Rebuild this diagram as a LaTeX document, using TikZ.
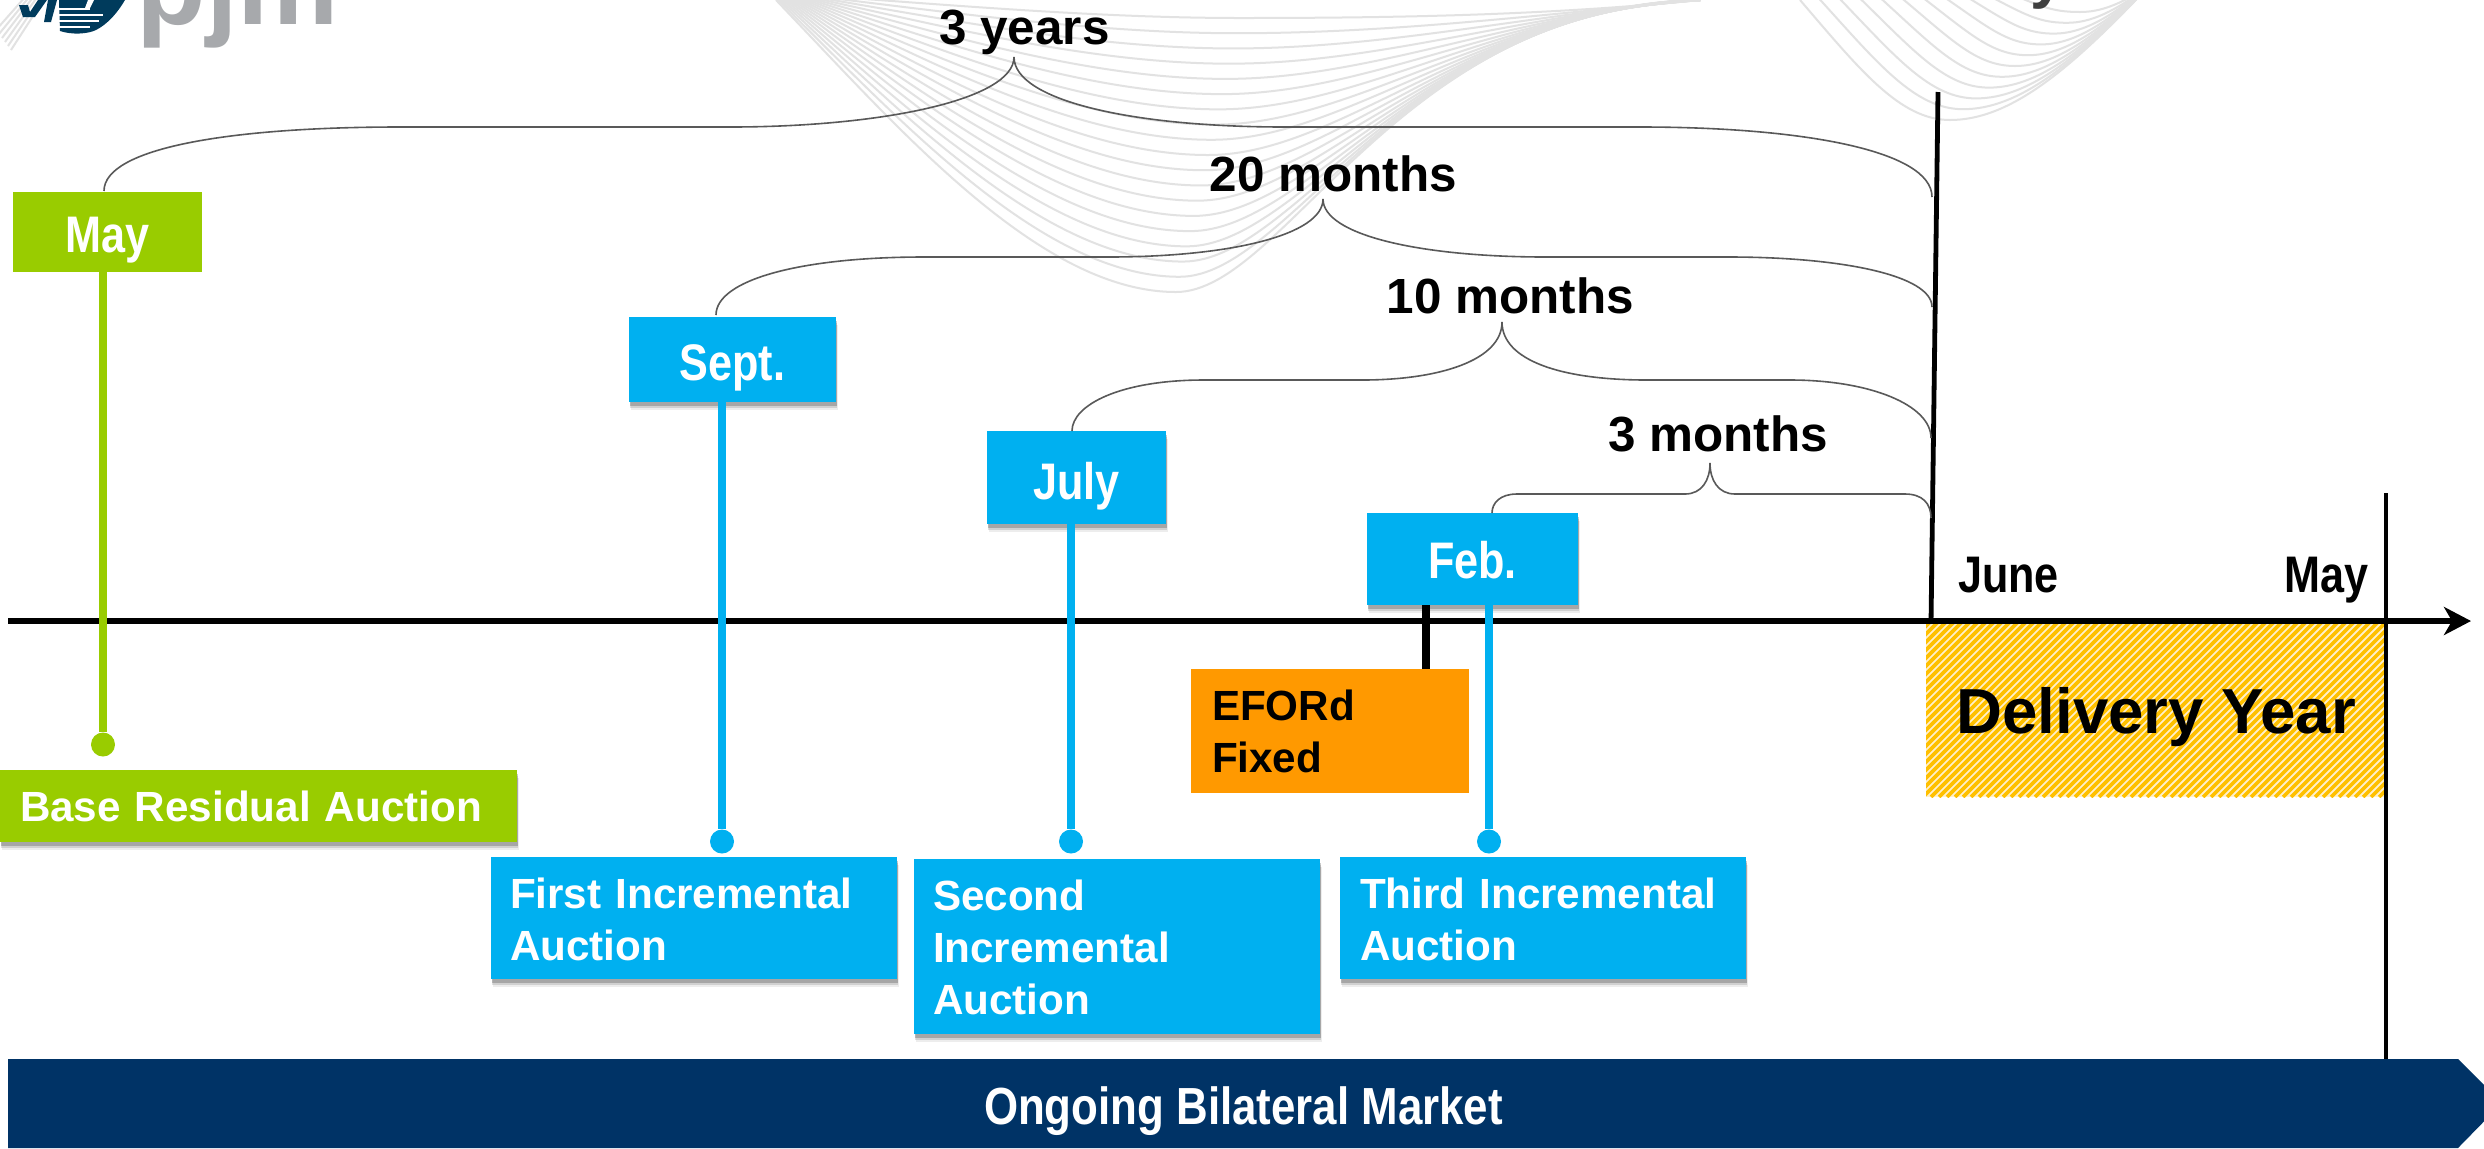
\documentclass[tikz,border=0pt]{standalone}
\usepackage{fontspec}
\setmainfont{Liberation Sans}
\newfontfamily\condfont[FakeStretch=0.84]{Liberation Sans}
\usetikzlibrary{arrows.meta,shadows,calc}
\definecolor{grn}{HTML}{99CC00}
\definecolor{sky}{HTML}{00B0F0}
\definecolor{org}{HTML}{FF9900}
\definecolor{navy}{HTML}{003366}
\definecolor{wave}{HTML}{E2E2E2}
\definecolor{logoblue}{HTML}{003B5C}
\definecolor{logogray}{HTML}{A7A9AC}
\definecolor{brace}{HTML}{595959}
\definecolor{hatch}{HTML}{FFC000}
\definecolor{hatchbg}{HTML}{FFF0CC}
\newcommand{\ts}[1]{\rule{0pt}{#1pt}}
\newcommand{\bs}[1]{\rule[-#1pt]{0pt}{#1pt}}
\tikzset{
  softshadow/.style={
    drop shadow={shadow xshift=0.9pt,shadow yshift=-4.2pt,opacity=0.07,fill=black},
    drop shadow={shadow xshift=0.7pt,shadow yshift=-3.1pt,opacity=0.12,fill=black},
    drop shadow={shadow xshift=0.4pt,shadow yshift=-1.8pt,opacity=0.20,fill=black}},
  tbox/.style={anchor=north west,inner ysep=0pt,outer sep=0pt,text=white,
    font=\fontsize{21.1}{26}\selectfont\bfseries,align=left},
  mbox/.style={anchor=north west,inner xsep=0pt,inner ysep=0pt,outer sep=0pt,text=white,
    font=\condfont\fontsize{25.7}{30}\selectfont\bfseries,align=center},
  stem/.style={line width=4pt},
  bigdot/.style={circle,inner sep=0pt,minimum size=12pt},
  brc/.style={draw=brace,line width=0.8pt},
  span/.style={anchor=base,font=\fontsize{24.7}{28}\selectfont\bfseries,text=black,inner sep=0pt},
  plain/.style={anchor=base,font=\condfont\fontsize{25.7}{30}\selectfont\bfseries,text=black,inner sep=0pt},
  wv/.style={draw=wave,line width=1pt}
}
\begin{document}
\begin{tikzpicture}[x=0.5pt,y=-0.5pt]
\path[use as bounding box,clip] (0,0) rectangle (2484,1148);
\fill[white] (0,0) rectangle (2484,1148);
% watermark, corner
\foreach \i in {0,...,5}
  \draw[wv] ({-4+3*\i},{30+4*\i}) -- ({26+4*\i},{-4});
% watermark, main family
\foreach \t in {0,...,18}{
  \pgfmathsetmacro\f{\t/18}
  \draw[wv] ({776+34*\f},{0-5*\f})
    .. controls ({900+50*\f},{130-125*\f}) and ({1040+60*\f},{292-274*\f}) .. ({1176+64*\f},{292-274*\f})
    .. controls ({1285+115*\f},{292-274*\f}) and ({1400+150*\f},{5+10*\f}) .. (1700,0);
}
% watermark, right family
\foreach \t in {0,...,10}{
  \pgfmathsetmacro\f{\t/10}
  \draw[wv] ({1800+190*\f},{0-15*\f})
    .. controls ({1860+180*\f},{70-64*\f}) and ({1900+150*\f},{120-108*\f}) .. ({1950+130*\f},{120-108*\f})
    .. controls ({2010+90*\f},{120-108*\f}) and ({2070+50*\f},{70-65*\f}) .. (2150,-15);
}
% logo
\fill[logoblue] (19,5) -- (28,5) -- (30,12) -- (38,0) -- (47,0) -- (35,17) -- (23,17) -- cycle;
\fill[logoblue] (48,0) -- (57,0) -- (51,22) -- (44,22) -- cycle;
\fill[logoblue] (59,0) -- (125,0) .. controls (118,12) and (108,24) .. (96,30) .. controls (88,34) and (72,35) .. (60,31) -- cycle;
\foreach \y/\xa in {9/90,15/103,21/99,27/90}
  \fill[white] (58,{\y-0.7}) -- (\xa,{\y-0.7}) -- (\xa,{\y+0.7}) -- (58,{\y+0.7}) -- cycle;
\fill[white] (88,0) -- (94,0) -- (90,8) -- (85,8) -- cycle;
\node[anchor=base west,inner sep=0pt,text=logogray,font=\fontsize{57}{60}\selectfont\bfseries] (pjmlogo) at (136,24) {pjm};
\node[anchor=base west,inner sep=0pt,text=black!75,font=\fontsize{31}{33}\selectfont\bfseries] (cutword) at (2030,-4) {y};
% delivery year
\fill[hatchbg] (1926,618) rectangle (2384,797);
\begin{scope}
  \clip (1926,618) rectangle (2384,797);
  \foreach \x in {1747,1755,...,2384}
    \draw[hatch,line width=1.8pt] (\x,797) -- ({\x+179},618);
\end{scope}
\node[anchor=base west,inner sep=0pt,font=\fontsize{31.8}{34}\selectfont\bfseries] (delivery) at (1956,733) {Delivery Year};
% bilateral bar
\fill[navy] (8,1059) -- (2458,1059) -- (2502,1103) -- (2458,1148) -- (8,1148) -- cycle;
\node[anchor=base,inner sep=0pt,text=white,font=\condfont\fontsize{26.1}{30}\selectfont\bfseries] (market) at (1243.5,1124) {Ongoing Bilateral Market};
% verticals and axis
\coordinate (juneTop) at (1938,92);
\coordinate (juneBot) at (1931,623);
\coordinate (mayTop) at (2386,493);
\coordinate (mayBot) at (2386,1059);
\draw[line width=2.4pt] (juneTop) -- (juneBot);
\draw[line width=2.2pt] (mayTop) -- (mayBot);
\coordinate (axisL) at (8,621);
\coordinate (axisR) at (2471,621);
\draw[line width=2.7pt,-{Stealth[length=13.5pt,width=14pt,inset=4pt]}] (axisL) -- (axisR);
\node[plain] (june) at (2008.5,592) {June};
\node[plain,anchor=base east] (mayend) at (2368.5,592) {May};
% auction dots
\node[bigdot,fill=grn] (dotBase) at (103,744.5) {};
\node[bigdot,fill=sky] (dotFirst) at (722,841.5) {};
\node[bigdot,fill=sky] (dotSecond) at (1071,841.5) {};
\node[bigdot,fill=sky] (dotThird) at (1489,841.5) {};
% month boxes
\node[mbox,fill=grn,text width=94.5pt] (mayBox) at (13,192) {\ts{30}May\bs{10}};
\node[mbox,fill=sky,text width=103.5pt,softshadow] (septBox) at (629,317) {\ts{31.5}Sept.\bs{11}};
\node[mbox,fill=sky,text width=89.5pt,softshadow] (julyBox) at (987,431) {\ts{34}July\bs{12.5}};
\node[mbox,fill=sky,text width=105.5pt,softshadow] (febBox) at (1367,513) {\ts{32.5}Feb.\bs{13.5}};
% description boxes
\node[tbox,fill=org,text=black,inner xsep=10.5pt,text width=118pt] (eford) at (1191,669) {\ts{25.5}EFORd\\Fixed\bs{10.5}};
\node[tbox,fill=grn,inner xsep=10pt,text width=238.5pt,softshadow] (baseBox) at (0,770) {\ts{25.5}Base Residual Auction\bs{10.5}};
\node[tbox,fill=sky,inner xsep=9.5pt,text width=184pt,softshadow] (firstBox) at (491,857) {\ts{25.5}First Incremental\\Auction\bs{9.5}};
\node[tbox,fill=sky,inner xsep=9.5pt,text width=184pt,softshadow] (secondBox) at (914,859) {\ts{25.5}Second\\Incremental\\Auction\bs{10}};
\node[tbox,fill=sky,inner xsep=10pt,text width=183pt,softshadow] (thirdBox) at (1340,857) {\ts{25.5}Third Incremental\\Auction\bs{9.5}};
% stems
\draw[stem,grn] (mayBox.south -| dotBase) -- (dotBase);
\draw[stem,sky] (septBox.south -| dotFirst) -- (dotFirst);
\draw[stem,sky] (julyBox.south -| dotSecond) -- (dotSecond);
\draw[stem,sky] (febBox.south -| dotThird) -- (dotThird);
\coordinate (efordTop) at (1426,669);
\draw[stem,black] (febBox.south -| efordTop) -- (efordTop);
% span labels
\node[span] (lab3y) at (1024.5,44) {3 years};
\node[span] (lab20) at (1333.5,191) {20 months};
\node[span] (lab10) at (1510.5,313) {10 months};
\node[span] (lab3m) at (1718,451) {3 months};
% braces
\coordinate (a1) at (104,191); \coordinate (a2) at (1014,57); \coordinate (a3) at (1932,197);
\draw[brc] (a1) .. controls (104,148) and (230,127) .. (400,127) -- (730,127)
  .. controls (880,127) and (1014,100) .. (a2)
  .. controls (1014,100) and (1130,127) .. (1285,127) -- (1640,127)
  .. controls (1800,127) and (1932,150) .. (a3);
\coordinate (b1) at (716,315); \coordinate (b2) at (1323,199); \coordinate (b3) at (1932,307);
\draw[brc] (b1) .. controls (716,280) and (800,257) .. (924,257) -- (1108,257)
  .. controls (1230,257) and (1323,235) .. (b2)
  .. controls (1323,235) and (1420,257) .. (1546,257) -- (1729,257)
  .. controls (1840,257) and (1932,275) .. (b3);
\coordinate (c1) at (1072,431); \coordinate (c2) at (1502,322); \coordinate (c3) at (1931,438);
\draw[brc] (c1) .. controls (1072,405) and (1120,380) .. (1204,380) -- (1362,380)
  .. controls (1440,380) and (1502,360) .. (c2)
  .. controls (1502,360) and (1560,380) .. (1647,380) -- (1790,380)
  .. controls (1870,380) and (1931,405) .. (c3);
\coordinate (d1) at (1492,513); \coordinate (d2) at (1710,463); \coordinate (d3) at (1931,518);
\draw[brc] (d1) .. controls (1492,503) and (1500,494) .. (1517,494) -- (1685,494)
  .. controls (1702,494) and (1710,480) .. (d2)
  .. controls (1710,480) and (1718,494) .. (1735,494) -- (1905,494)
  .. controls (1922,494) and (1931,503) .. (d3);
\end{tikzpicture}
\end{document}
